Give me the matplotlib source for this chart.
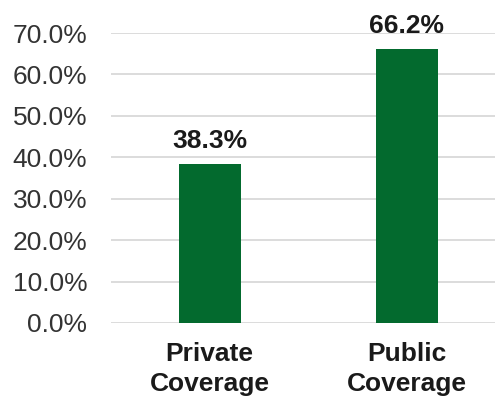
import matplotlib.pyplot as plt
import numpy as np

plt.rcParams['font.family'] = ['Liberation Sans', 'DejaVu Sans']

categories = ['Private\nCoverage', 'Public\nCoverage']
values = [38.3, 66.2]
value_labels = ['38.3%', '66.2%']
yticks = [0, 10, 20, 30, 40, 50, 60, 70]

fig = plt.figure(figsize=(4.95, 3.97), dpi=100)
ax = fig.add_axes([111/495, 74/397, 384/495, 290/397])

x = np.arange(len(categories))
bars = ax.bar(x, values, width=0.315, color='#036A2E', zorder=3)

for b, lab in zip(bars, value_labels):
    ax.annotate(lab, (b.get_x() + b.get_width()/2, b.get_height()),
                xytext=(0, 8), textcoords='offset points',
                ha='center', va='bottom', fontsize=19, fontweight='bold', color='#1a1a1a')

ax.set_xlim(-0.5, 1.447)
ax.set_ylim(0, 70)
ax.set_yticks(yticks)
ax.set_yticklabels(['%.1f%%' % v for v in yticks], fontsize=19, color='#333333')
ax.set_xticks(x)
ax.set_xticklabels(categories, fontsize=19, fontweight='bold', color='#1a1a1a', linespacing=1.3)
ax.tick_params(axis='y', length=0, pad=17)
ax.tick_params(axis='x', length=0, pad=14)
ax.yaxis.grid(True, color='#D9D9D9', linewidth=1.3, zorder=0)
for s in ax.spines.values():
    s.set_visible(False)

fig.savefig('out.png', dpi=100)
